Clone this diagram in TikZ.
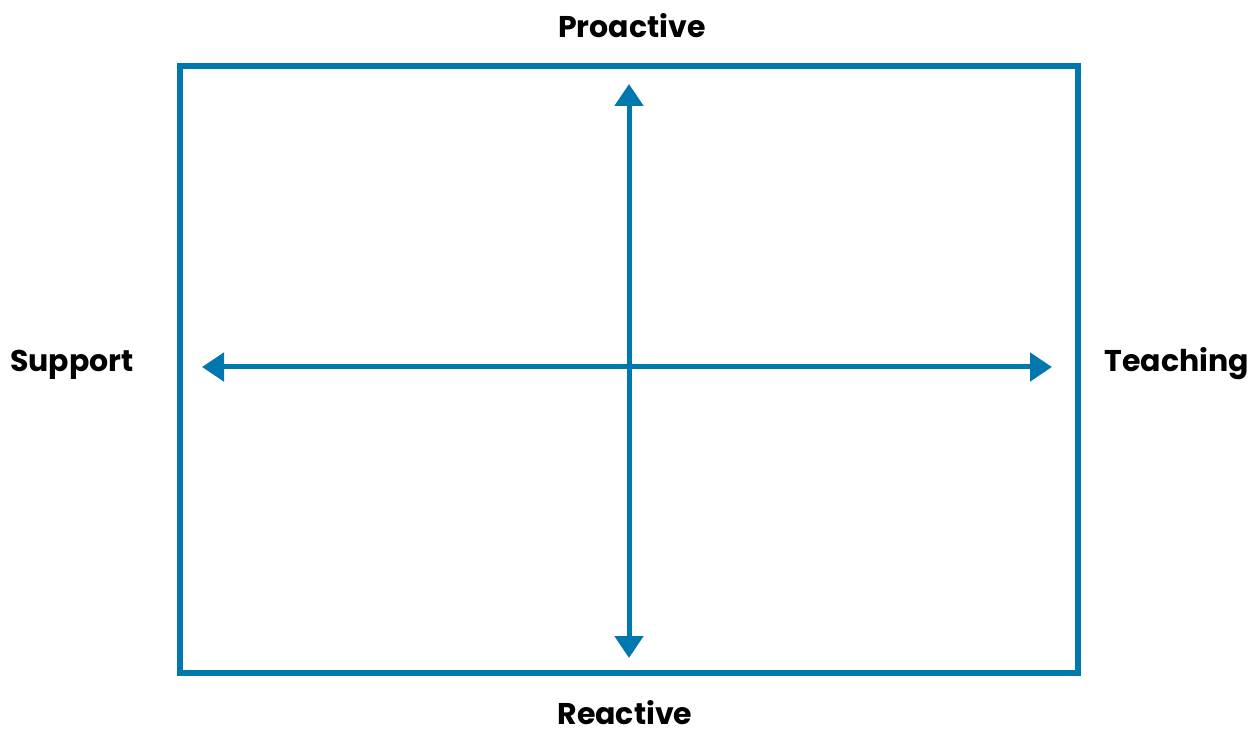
\documentclass[tikz,border=0pt]{standalone}
\usepackage{fontspec}
\setmainfont{Poppins}
\usetikzlibrary{arrows.meta}
\definecolor{axisblue}{HTML}{0077AD}
\tikzset{
  frame/.style={draw=axisblue, line width=5.5pt},
  axis/.style={draw=axisblue, line width=5pt, {Triangle[width=28pt,length=22pt]}-{Triangle[width=28pt,length=22pt]}},
  lbl/.style={font=\fontsize{30}{34}\selectfont\bfseries, text=black, inner sep=0pt}
}
\begin{document}
\begin{tikzpicture}[x=1pt,y=-1pt]
\useasboundingbox (0,0) rectangle (1251,735);
\draw[frame] (180,66) rectangle (1078,673);
\coordinate (top) at (629,84);
\coordinate (bot) at (629,658);
\coordinate (lft) at (202,367);
\coordinate (rgt) at (1052,367);
\draw[axis] (bot) -- (top);
\draw[axis] (lft) -- (rgt);
\node[lbl,anchor=base] (pro) at (632,38) {Proactive};
\node[lbl,anchor=base] (rea) at (625,724) {Reactive};
\node[lbl,anchor=base west] (sup) at (10,372) {Support};
\node[lbl,anchor=base east] (tea) at (1249,372) {Teaching};
\end{tikzpicture}
\end{document}
